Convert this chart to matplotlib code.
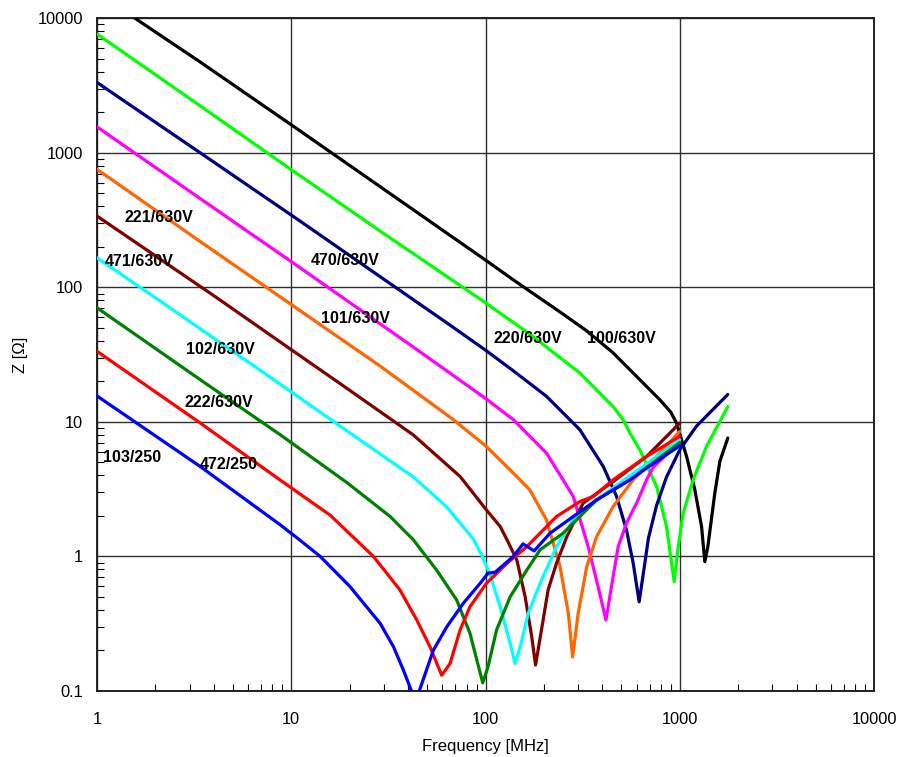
import matplotlib
matplotlib.use("Agg")
import matplotlib.pyplot as plt
from matplotlib.ticker import FixedLocator, NullFormatter

plt.rcParams['font.family'] = ['Liberation Sans', 'DejaVu Sans']

# ---- data (frequency in MHz, impedance in ohm) ----
black_f = [1.57, 3.40, 8.77, 11.1, 28.7, 101, 138, 250, 332, 453, 623, 790, 900, 963, 1084, 1196, 1295, 1346, 1395, 1516, 1608, 1768]
black_z = [10000, 4730, 1841, 1456, 560, 158, 114.6, 63.5, 47.5, 32.7, 20.6, 14.6, 11.8, 9.8, 5.54, 3.13, 1.67, 0.915, 1.18, 2.97, 5.08, 7.59]

lime_f = [1, 3.40, 10, 28.7, 93.7, 169, 306, 454, 511, 554, 623, 760, 855, 936, 982, 1042, 1172, 1374, 1768]
lime_z = [7640, 2234, 750, 262, 82, 45, 23.1, 13.0, 10.4, 8.27, 6.21, 3.31, 1.67, 0.65, 1.18, 2.1, 3.71, 6.57, 13.0]

navy_f = [1, 3.40, 11.1, 28.7, 63.2, 101, 139, 206, 306, 404, 473, 532, 576, 618, 661, 690, 760, 855, 1000, 1219, 1768]
navy_z = [3336, 1000, 311, 120, 54.5, 33.8, 24.0, 15.5, 8.75, 4.66, 2.79, 1.57, 0.89, 0.46, 0.89, 1.37, 2.4, 3.9, 6.2, 9.3, 16.0]

magenta_f = [1, 3.40, 11.1, 42.5, 101, 139, 206, 251, 283, 338, 380, 417, 454, 482, 532, 600, 675, 727, 1000]
magenta_z = [1560, 457, 140, 36, 14.8, 10.4, 5.87, 3.71, 2.79, 1.18, 0.596, 0.337, 0.707, 1.18, 1.77, 2.49, 3.71, 4.56, 7.2]

orange_f = [1, 3.40, 8.77, 28.7, 68.3, 101, 139, 169, 206, 242, 267, 281, 300, 332, 373, 454, 576, 760, 1000]
orange_z = [755, 219, 85, 26.0, 10.4, 6.57, 4.17, 3.13, 1.87, 0.84, 0.378, 0.179, 0.378, 0.84, 1.40, 2.35, 3.71, 5.54, 8.5]

maroon_f = [1, 4.14, 8.77, 19.3, 42.5, 74, 101, 119, 129, 145, 160, 173, 181, 198, 210, 232, 262, 318, 454, 675, 1000]
maroon_z = [339, 83.7, 39.3, 17.8, 8.0, 3.93, 2.22, 1.67, 1.33, 0.94, 0.502, 0.253, 0.156, 0.337, 0.563, 0.89, 1.40, 2.49, 3.6, 5.54, 9.8]

cyan_f = [1, 2.12, 5.04, 8.77, 19.3, 42.5, 63.2, 86.5, 95.6, 105, 119, 134, 142, 151, 166, 191, 232, 283, 373, 1000]
cyan_z = [166, 79, 33.2, 19.1, 8.6, 3.9, 2.33, 1.35, 1.02, 0.75, 0.423, 0.226, 0.16, 0.213, 0.378, 0.63, 1.18, 1.87, 2.63, 7.37]

dkgreen_f = [1, 3.40, 8.77, 19.3, 32.3, 42.5, 56.1, 71.1, 83.2, 91.2, 96.8, 103, 114, 134, 163, 191, 251, 373, 554, 1000]
dkgreen_z = [70.5, 20.6, 8.03, 3.55, 1.98, 1.33, 0.79, 0.474, 0.268, 0.16, 0.115, 0.151, 0.284, 0.502, 0.79, 1.12, 1.49, 2.63, 3.71, 7.0]

red_f = [1, 3.40, 8.77, 15.9, 26.5, 36.3, 44.3, 51.8, 59.5, 65.7, 74, 83.2, 101, 129, 163, 232, 306, 359, 454, 675, 1000]
red_z = [33.5, 9.81, 3.70, 2.02, 1.0, 0.563, 0.337, 0.213, 0.131, 0.16, 0.284, 0.423, 0.63, 0.89, 1.18, 1.98, 2.56, 2.79, 3.71, 5.54, 7.8]

blue_f = [1, 3.40, 8.77, 11.1, 14.1, 20, 28.7, 33.6, 37.8, 41.7, 43.5, 45.6, 53.9, 63.2, 76.9, 93.7, 103, 112, 139, 156, 178, 215, 283, 373, 554, 675, 1000]
blue_z = [15.6, 4.66, 1.72, 1.32, 1.0, 0.6, 0.318, 0.213, 0.143, 0.099, 0.085, 0.1, 0.201, 0.30, 0.449, 0.63, 0.75, 0.763, 1.0, 1.24, 1.10, 1.49, 1.98, 2.63, 3.71, 4.54, 6.65]

labels = ["221/630V", "471/630V", "470/630V", "101/630V", "220/630V",
          "100/630V", "102/630V", "222/630V", "103/250", "472/250"]
label_f = [1.38, 1.10, 12.6, 14.2, 110, 332, 2.87, 2.81, 1.07, 3.37]
label_z = [331, 157, 158, 58.7, 41.4, 41.4, 34.5, 14.0, 5.44, 4.80]

x_ticks = [1, 10, 100, 1000, 10000]
x_tick_labels = ["1", "10", "100", "1000", "10000"]
y_ticks = [0.1, 1, 10, 100, 1000, 10000]
y_tick_labels = ["0.1", "1", "10", "100", "1000", "10000"]

series = [
    (black_f, black_z, "#000000"),
    (lime_f, lime_z, "#00FF00"),
    (navy_f, navy_z, "#000080"),
    (magenta_f, magenta_z, "#FF00FF"),
    (orange_f, orange_z, "#FF6600"),
    (maroon_f, maroon_z, "#800000"),
    (cyan_f, cyan_z, "#00FFFF"),
    (dkgreen_f, dkgreen_z, "#008000"),
    (red_f, red_z, "#FF0000"),
    (blue_f, blue_z, "#0000FF"),
]

fig = plt.figure(figsize=(8.97, 7.57), dpi=100)
ax = fig.add_axes([97 / 897, 1 - 691 / 757, (874 - 97) / 897, (691 - 18.3) / 757])
ax.set_xscale("log")
ax.set_yscale("log")
ax.set_xlim(1, 10000)
ax.set_ylim(0.1, 10000)

ax.grid(which="major", color="#303030", lw=1.0, zorder=1)
ax.set_axisbelow(True)

for f, z, c in series:
    ax.plot(f, z, color=c, lw=2.3, solid_joinstyle="round", solid_capstyle="round", zorder=3)

for t, fx, zy in zip(labels, label_f, label_z):
    ax.text(fx, zy, t, fontsize=11.5, fontweight="bold", ha="left", va="center", zorder=5)

ax.xaxis.set_major_locator(FixedLocator(x_ticks))
ax.set_xticklabels(x_tick_labels)
ax.yaxis.set_major_locator(FixedLocator(y_ticks))
ax.set_yticklabels(y_tick_labels)
ax.xaxis.set_minor_formatter(NullFormatter())
ax.yaxis.set_minor_formatter(NullFormatter())

ax.tick_params(which="major", direction="in", length=0, labelsize=11.8)
ax.tick_params(axis="x", which="major", pad=15)
ax.tick_params(axis="y", which="major", pad=10)
ax.tick_params(which="minor", direction="in", length=5, width=0.8, top=False, right=False)

for s in ax.spines.values():
    s.set_linewidth(1.4)
    s.set_color("#202020")

ax.set_xlabel("Frequency [MHz]", fontsize=12)
ax.set_ylabel("Z [Ω]", fontsize=12)
ax.xaxis.set_label_coords(0.5, (691 - 747) / (691 - 18.3))
ax.yaxis.set_label_coords((20 - 97) / 777, 0.5)
ax.xaxis.label.set_va("center")
ax.yaxis.label.set_va("center")

fig.savefig("out.png", dpi=100)
